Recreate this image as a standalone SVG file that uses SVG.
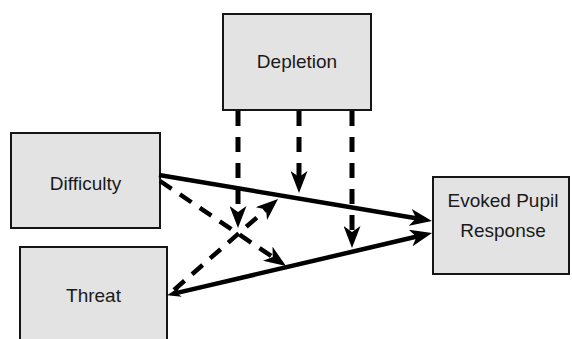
<svg xmlns="http://www.w3.org/2000/svg" width="572" height="339" viewBox="0 0 572 339">
<style>
.box{fill:#e3e3e3;stroke:#151515;stroke-width:2}
.lbl{font-family:"Liberation Sans",Arial,sans-serif;font-size:19px;fill:#1a1a1a;text-anchor:middle}
.solid{stroke:#000;stroke-width:4.5;fill:none}
.dash{stroke:#000;stroke-width:4.5;fill:none;stroke-dasharray:14 10}
.vdash{stroke:#000;stroke-width:5;fill:none;stroke-dasharray:15 11}
</style>
<defs>
<marker id="ah" markerUnits="userSpaceOnUse" markerWidth="22" markerHeight="17" refX="12" refY="8.5" orient="auto" viewBox="0 0 22 17">
<path d="M0,0 L22,8.5 L0,17 L6,8.5 z" fill="#000"/>
</marker>
<marker id="ahs" markerUnits="userSpaceOnUse" markerWidth="14" markerHeight="10" refX="7" refY="5" orient="auto-start-reverse" viewBox="0 0 14 10">
<path d="M0,0 L14,5 L0,10 L4,5 z" fill="#000"/>
</marker>
</defs>
<g id="node-depletion"><rect class="box" x="223" y="14" width="148" height="96"/><text class="lbl" x="297" y="68">Depletion</text></g>
<g id="node-difficulty"><rect class="box" x="11" y="133" width="149" height="95"/><text class="lbl" x="85.5" y="190">Difficulty</text></g>
<g id="node-threat"><rect class="box" x="20" y="247" width="147" height="100"/><text class="lbl" x="93.5" y="302">Threat</text></g>
<g id="node-evoked"><rect class="box" x="433" y="177" width="136" height="97"/><text class="lbl" x="503" y="207">Evoked Pupil</text><text class="lbl" x="503" y="237">Response</text></g>
<g id="connectors">
<line class="vdash" x1="238" y1="111" x2="238" y2="218" marker-end="url(#ah)"/>
<line class="vdash" x1="299" y1="111" x2="299" y2="183" marker-end="url(#ah)"/>
<line class="vdash" x1="352" y1="111" x2="352" y2="238" marker-end="url(#ah)"/>
<line class="solid" x1="159" y1="175" x2="422.1" y2="219.3" marker-end="url(#ah)"/>
<line class="solid" x1="173.8" y1="293.6" x2="422.3" y2="235.3" marker-start="url(#ahs)" marker-end="url(#ah)"/>
<line class="dash" x1="160" y1="181" x2="277.7" y2="260.4" marker-end="url(#ah)"/>
<line class="dash" x1="174" y1="290" x2="270.5" y2="205.6" marker-end="url(#ah)"/>
</g>
</svg>
